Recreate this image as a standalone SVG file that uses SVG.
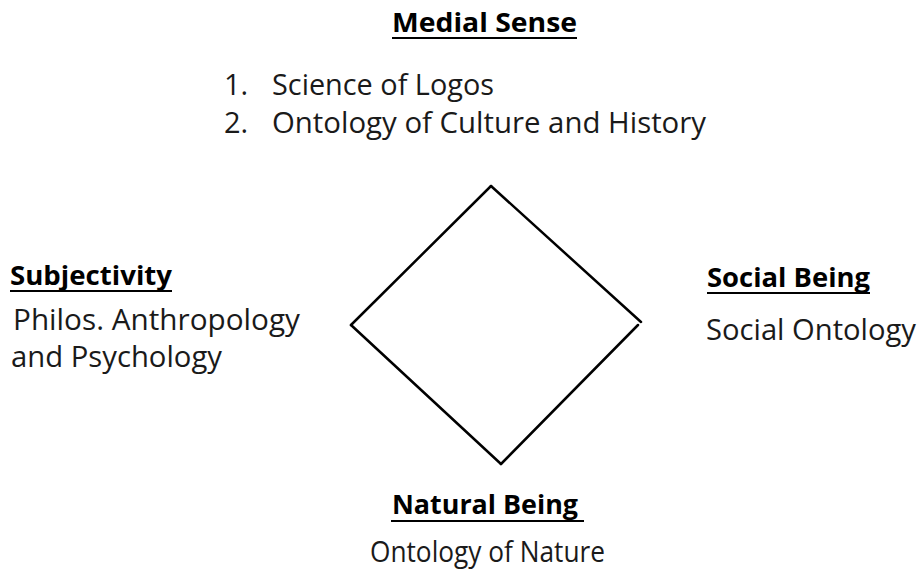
<svg xmlns="http://www.w3.org/2000/svg" width="920" height="576" viewBox="0 0 920 576">
<style>
.h{font-family:"Open Sans","Noto Sans",sans-serif;font-weight:bold;font-size:27px;fill:#000}
.b{font-family:"Open Sans","Noto Sans",sans-serif;font-size:29px;fill:#1a1a1a}
.u{stroke:#000;stroke-width:2}
.edge{stroke:#000;stroke-width:2.5;fill:none;stroke-linecap:round}
</style>
<rect width="920" height="576" fill="#fff"/>
<g id="medial-sense">
<text class="h" x="392" y="32" textLength="185" lengthAdjust="spacingAndGlyphs">Medial Sense</text>
<line class="u" x1="392" y1="38" x2="577" y2="38"/>
<text class="b" x="224" y="95">1.</text>
<text class="b" x="272" y="95" textLength="222" lengthAdjust="spacingAndGlyphs">Science of Logos</text>
<text class="b" x="224" y="133">2.</text>
<text class="b" x="272" y="133" textLength="434" lengthAdjust="spacingAndGlyphs">Ontology of Culture and History</text>
</g>
<g id="subjectivity">
<text class="h" x="10" y="285" textLength="162" lengthAdjust="spacingAndGlyphs">Subjectivity</text>
<line class="u" x1="10" y1="291" x2="172" y2="291"/>
<text class="b" x="13" y="330" textLength="287" lengthAdjust="spacingAndGlyphs">Philos. Anthropology</text>
<text class="b" x="11" y="367" textLength="211" lengthAdjust="spacingAndGlyphs">and Psychology</text>
</g>
<g id="social-being">
<text class="h" x="707" y="287" textLength="163" lengthAdjust="spacingAndGlyphs">Social Being</text>
<line class="u" x1="707" y1="293" x2="870" y2="293"/>
<text class="b" x="706" y="340" textLength="210" lengthAdjust="spacingAndGlyphs">Social Ontology</text>
</g>
<g id="natural-being">
<text class="h" x="392" y="514" textLength="186" lengthAdjust="spacingAndGlyphs">Natural Being</text>
<line class="u" x1="391" y1="521" x2="584" y2="521"/>
<text class="b" x="370" y="562" textLength="235" lengthAdjust="spacingAndGlyphs">Ontology of Nature</text>
</g>
<g id="connectors">
<line class="edge" x1="351" y1="325" x2="491" y2="186"/>
<line class="edge" x1="491" y1="186" x2="641" y2="322"/>
<line class="edge" x1="351" y1="325" x2="501" y2="464"/>
<line class="edge" x1="501" y1="464" x2="638" y2="325"/>
</g>
</svg>
